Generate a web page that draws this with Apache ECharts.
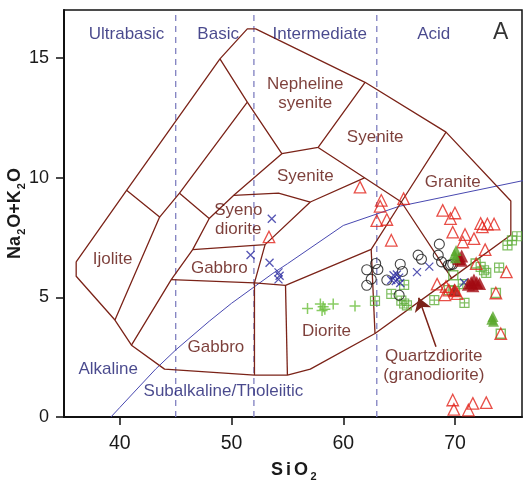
<!DOCTYPE html>
<html>
<head>
<meta charset="utf-8">
<script src="https://cdn.jsdelivr.net/npm/echarts@6/dist/echarts.min.js"></script>
<style>
  html, body { margin: 0; padding: 0; background: #fff; }
  #chart { width: 525px; height: 483px; }
</style>
</head>
<body>
<div id="chart"></div>
<script>
// Axis ranges and ticks
const xRange = [35, 76];
const yRange = [0, 17];
const xTicks = [40, 50, 60, 70];
const yTicks = [0, 5, 10, 15];

// Silica class dividers and their names
const silicaDividers = [45, 52, 63];
const silicaClasses = ['Ultrabasic', 'Basic', 'Intermediate', 'Acid'];
const silicaClassAt = [[40.6, 16.0], [48.8, 16.0], [57.9, 16.0], [68.1, 16.0]];

// Alkaline / subalkaline divide (Irvine & Baragar 1971)
const alkalineDivide = [[39.2, 0], [40, 0.4], [43.2, 2], [45, 2.8], [48, 4], [50, 4.75],
  [53.7, 6], [55, 6.4], [60, 8], [65, 8.8], [77.4, 10]];

// Field boundaries of the plutonic TAS classification
const outerBoundary = [[36.09, 6.48], [40.6, 9.47], [48.96, 14.96], [51.41, 16.21], [52.16, 16.21],
  [61.95, 13.98], [69.2, 11.9], [75.0, 9.02], [75.0, 7.6], [69.7, 5.8], [62.84, 3.49],
  [57.05, 2.0], [55.0, 1.75], [52.05, 1.75], [44.0, 2.0], [41.04, 3.0], [39.56, 4.05],
  [36.09, 5.88], [36.09, 6.48]];
const innerBoundaries = [
  [[40.6, 9.47], [43.56, 8.35], [39.56, 4.05]],
  [[43.56, 8.35], [45.34, 9.35], [51.41, 13.15], [48.96, 14.96]],
  [[51.41, 13.15], [54.5, 11.0], [57.75, 11.26], [61.95, 13.98]],
  [[45.34, 9.35], [48.0, 8.29], [50.2, 9.26], [54.5, 11.0]],
  [[57.75, 11.26], [61.9, 9.99], [65.2, 8.98], [69.2, 11.9]],
  [[50.2, 9.26], [54.2, 9.35], [57.05, 8.98], [61.9, 9.99]],
  [[41.04, 3.0], [44.6, 5.74], [46.52, 6.99], [48.0, 8.29]],
  [[46.52, 6.99], [53.0, 7.2], [57.05, 8.98]],
  [[53.0, 7.2], [52.05, 5.6], [52.05, 1.75]],
  [[44.6, 5.74], [52.05, 5.6], [54.83, 5.5], [62.5, 7.0], [65.2, 8.98], [69.7, 5.8]],
  [[54.83, 5.5], [55.0, 1.75]],
  [[62.5, 7.0], [62.84, 3.49]]
];

// Field names and where they are written
const fieldNames = ['Ijolite', 'Gabbro', 'Gabbro', 'Syeno\ndiorite', 'Syenite', 'Nepheline\nsyenite',
  'Syenite', 'Granite', 'Diorite', 'Quartzdiorite\n(granodiorite)'];
const fieldNameAt = [[39.35, 6.58], [48.9, 6.2], [48.6, 2.93], [50.6, 8.22], [56.6, 10.05],
  [56.6, 13.5], [62.86, 11.69], [69.8, 9.81], [58.5, 3.56], [68.1, 2.13]];
const pointerFrom = [68.3, 2.93];
const pointerTo = [66.75, 4.98];

// Series names for the alkaline divide
const divideNames = ['Alkaline', 'Subalkaline/Tholeiitic'];
const divideNameAt = [[38.96, 2.0], [49.27, 1.06]];
const panelTag = 'A';
const panelTagAt = [74.1, 16.07];

// Sample compositions [SiO2, Na2O+K2O]
const openTriangles = [[53.35, 7.52], [61.5, 9.6], [63.4, 9.05], [63.3, 8.8], [63.0, 8.2], [63.9, 8.25],
  [65.4, 9.12], [64.3, 7.38], [68.9, 8.63], [70.0, 8.52], [69.6, 8.29], [69.8, 7.72], [70.9, 7.62],
  [70.7, 7.31], [71.7, 7.45], [72.3, 8.08], [72.45, 7.94], [72.9, 8.06], [73.5, 8.06], [72.7, 6.99],
  [74.6, 6.06], [68.4, 5.55], [69.2, 5.45], [69.1, 5.1], [70.2, 5.15], [71.9, 6.41], [73.66, 5.18],
  [74.1, 3.48], [69.45, 5.3], [70.0, 5.27], [69.8, 0.71], [69.9, 0.32], [71.2, 0.29], [71.6, 0.57],
  [72.8, 0.6]];
const filledTriangles = [[70.35, 6.62], [70.55, 6.55], [70.6, 6.72], [71.2, 5.55], [71.45, 5.62],
  [71.7, 5.72], [71.95, 5.62], [72.2, 5.58], [71.6, 5.48], [69.95, 5.32]];
const greenFilled = [[69.95, 6.8], [70.1, 6.95], [70.05, 6.65], [73.3, 4.08], [73.45, 4.0], [73.4, 4.2]];
const openCircles = [[62.1, 6.15], [62.9, 6.41], [63.1, 6.16], [62.5, 5.76], [62.1, 5.5], [65.1, 6.38],
  [65.3, 6.08], [63.9, 5.72], [65.0, 5.09], [66.7, 6.76], [67.0, 6.59], [68.6, 7.22], [68.5, 6.76],
  [68.8, 6.48], [69.4, 6.34], [69.6, 6.36], [69.8, 6.38]];
const crosses = [[53.6, 8.28], [51.7, 6.77], [53.4, 6.44], [54.2, 6.04], [54.3, 5.9], [54.2, 5.75],
  [64.3, 5.72], [64.5, 5.92], [64.8, 5.95], [65.0, 5.82], [64.7, 5.68], [65.1, 5.6], [66.6, 6.05],
  [67.7, 6.28], [70.8, 5.62]];
const pluses = [[56.8, 4.53], [57.95, 4.72], [58.2, 4.6], [58.35, 4.5], [58.1, 4.45], [59.1, 4.72],
  [61.05, 4.64]];
const gridSquares = [[74.7, 7.17], [75.1, 7.38], [75.55, 7.55], [72.3, 6.27], [72.6, 6.13], [72.8, 6.02],
  [73.95, 6.24], [70.7, 5.55], [69.45, 5.3], [70.0, 5.27], [68.15, 4.88], [70.85, 4.77], [65.45, 5.52],
  [64.3, 5.14], [62.84, 4.85], [65.2, 4.86], [65.45, 4.74], [65.7, 4.66]];
const openSquares = [[69.85, 5.92], [71.85, 6.41], [73.66, 5.18], [74.1, 3.48]];

const FONT = '"Liberation Sans", Arial, sans-serif';
const FIELD_RED = '#5c0f09';
const NAVY = '#1c1c70';

const chart = echarts.init(document.getElementById('chart'), null, { renderer: 'canvas' });

function boundarySeries(points) {
  return {
    type: 'line', data: points, symbol: 'none', silent: true, z: 3,
    lineStyle: { color: '#7b2318', width: 1.3 }, animation: false
  };
}

function textSeries(points, names, style) {
  return {
    type: 'scatter', silent: true, z: 6, symbolSize: 0,
    itemStyle: { color: 'rgba(0,0,0,0)' },
    data: points.map((p, i) => ({ value: p, name: names[i] })),
    label: Object.assign({
      show: true, position: 'inside', formatter: '{b}',
      fontFamily: FONT, align: 'center', verticalAlign: 'middle'
    }, style)
  };
}

function markerSeries(points, symbol, size, itemStyle, z) {
  return {
    type: 'scatter', data: points, symbol: symbol, symbolSize: size,
    itemStyle: itemStyle, z: z, silent: true
  };
}

const series = [];
silicaDividers.forEach(v => series.push({
  type: 'line', data: [[v, yRange[0]], [v, yRange[1]]], symbol: 'none', silent: true, z: 2,
  lineStyle: { color: '#7f7fc0', width: 1.3, type: [6, 5] }
}));
series.push({
  type: 'line', data: alkalineDivide, symbol: 'none', silent: true, z: 2,
  lineStyle: { color: '#4848b0', width: 1 }
});
series.push(boundarySeries(outerBoundary));
innerBoundaries.forEach(b => series.push(boundarySeries(b)));

series.push({
  type: 'lines', coordinateSystem: 'cartesian2d', silent: true, z: 4,
  data: [{ coords: [pointerFrom, pointerTo] }],
  symbol: ['none', 'arrow'], symbolSize: 13,
  lineStyle: { color: '#7b2318', width: 1.5, opacity: 1 }
});

// Samples
series.push(markerSeries(gridSquares, 'path://M0,0H10V10H0ZM5,0V10M0,5H10', 9,
  { color: 'rgba(0,0,0,0)', borderColor: '#5fae3a', borderWidth: 1.2 }, 10));
series.push(markerSeries(openSquares, 'rect', 9,
  { color: 'rgba(0,0,0,0)', borderColor: '#5fae3a', borderWidth: 1.4 }, 10));
series.push(markerSeries(pluses, 'path://M5,0V10M0,5H10', 11,
  { color: 'rgba(0,0,0,0)', borderColor: '#6cbf3c', borderWidth: 1.5 }, 10));
series.push(markerSeries(openCircles, 'circle', 10,
  { color: 'rgba(0,0,0,0)', borderColor: '#151515', borderWidth: 1.1 }, 11));
series.push(markerSeries(crosses, 'path://M0,0L10,10M10,0L0,10', 8,
  { color: 'rgba(0,0,0,0)', borderColor: '#2b2ba0', borderWidth: 1.3 }, 11));
series.push(markerSeries(filledTriangles, 'triangle', 13,
  { color: '#a30a12' }, 12));
series.push(markerSeries(greenFilled, 'triangle', 11,
  { color: '#58a82a' }, 13));
series.push(markerSeries(openTriangles, 'triangle', 11.5,
  { color: 'rgba(0,0,0,0)', borderColor: '#e2231a', borderWidth: 1.3 }, 12));

// Text
series.push(textSeries(fieldNameAt, fieldNames, { color: FIELD_RED, fontSize: 17, lineHeight: 19 }));
series.push(textSeries(silicaClassAt, silicaClasses, { color: NAVY, fontSize: 17 }));
series.push(textSeries(divideNameAt, divideNames, { color: NAVY, fontSize: 17 }));
series.push(textSeries([panelTagAt], [panelTag], { color: '#000', fontSize: 23 }));

chart.setOption({
  animation: false,
  grid: {
    left: 64, right: 3, top: 10, bottom: 66, outerBoundsMode: 'none', containLabel: false,
    show: true, borderColor: '#111', borderWidth: 1.5, backgroundColor: 'rgba(0,0,0,0)'
  },
  xAxis: {
    type: 'value', min: xRange[0], max: xRange[1],
    name: '{b|S}{b|i}{b|O}{s|2}', nameLocation: 'middle', nameGap: 42, nameMoveOverlap: false,
    nameTextStyle: {
      rich: {
        b: { fontFamily: FONT, fontSize: 18, fontWeight: 'bold', color: '#1a1a1a', padding: [0, 1.5, 0, 1.5] },
        s: { fontFamily: FONT, fontSize: 11, fontWeight: 'bold', color: '#1a1a1a', padding: [12, 0, 0, 1] }
      }
    },
    axisLine: { show: true, onZero: false, lineStyle: { color: '#111', width: 2 } },
    axisTick: { show: true, inside: false, length: 8, customValues: xTicks, lineStyle: { color: '#111', width: 1.5 } },
    axisLabel: { margin: 17, customValues: xTicks, fontFamily: FONT, fontSize: 19.5, color: '#1a1a1a' },
    splitLine: { show: false }
  },
  yAxis: {
    type: 'value', min: yRange[0], max: yRange[1],
    name: '{b|Na}{s|2}{b|O+K}{s|2}{b|O}', nameLocation: 'middle', nameGap: 37, nameRotate: 90,
    nameMoveOverlap: false,
    nameTextStyle: {
      rich: {
        b: { fontFamily: FONT, fontSize: 18, fontWeight: 'bold', color: '#1a1a1a' },
        s: { fontFamily: FONT, fontSize: 11, fontWeight: 'bold', color: '#1a1a1a', padding: [12, 1, 0, 1] }
      }
    },
    axisLine: { show: true, onZero: false, lineStyle: { color: '#111', width: 2 } },
    axisTick: { show: true, inside: false, length: 8, customValues: yTicks, lineStyle: { color: '#111', width: 1.5 } },
    axisLabel: { margin: 15, customValues: yTicks, fontFamily: FONT, fontSize: 18, color: '#1a1a1a' },
    splitLine: { show: false }
  },
  series: series
});
</script>
</body>
</html>
